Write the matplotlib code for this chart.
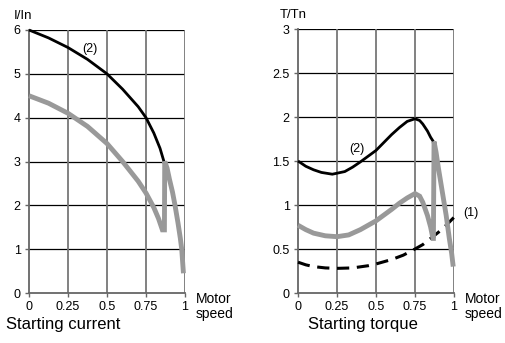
import matplotlib
matplotlib.use("Agg")
import matplotlib.pyplot as plt

plt.rcParams['font.family'] = ['Liberation Sans', 'DejaVu Sans']

# starting current, black curve (2)
cur_x2 = [0, 0.125, 0.25, 0.375, 0.5, 0.6, 0.7, 0.75, 0.8, 0.84, 0.865]
cur_y2 = [6.0, 5.82, 5.6, 5.33, 5.0, 4.65, 4.25, 4.0, 3.65, 3.3, 3.0]
# starting current, gray curve
cur_xg = [0, 0.125, 0.25, 0.375, 0.5, 0.6, 0.7, 0.75, 0.8, 0.83, 0.855, 0.868,
          0.87, 0.885, 0.9, 0.92, 0.936, 0.955, 0.97, 0.979, 0.99]
cur_yg = [4.5, 4.33, 4.1, 3.8, 3.41, 3.0, 2.55, 2.28, 1.95, 1.7, 1.44, 1.44,
          3.0, 2.85, 2.6, 2.3, 2.0, 1.6, 1.25, 1.0, 0.45]

# starting torque, black curve (2)
trq_x2 = [0, 0.05, 0.1, 0.15, 0.22, 0.3, 0.35, 0.4, 0.5, 0.55, 0.6, 0.65, 0.7,
          0.75, 0.78, 0.8, 0.83, 0.85, 0.868]
trq_y2 = [1.5, 1.44, 1.4, 1.37, 1.35, 1.38, 1.43, 1.49, 1.62, 1.71, 1.8, 1.88, 1.95,
          1.98, 1.96, 1.92, 1.84, 1.77, 1.72]
# starting torque, gray curve
trq_xg = [0, 0.05, 0.1, 0.175, 0.25, 0.325, 0.4, 0.5, 0.6, 0.65, 0.7, 0.75, 0.78,
          0.8, 0.83, 0.85, 0.865, 0.868, 0.872, 0.885, 0.9, 0.925, 0.95, 0.97, 0.985, 0.995]
trq_yg = [0.77, 0.72, 0.68, 0.65, 0.64, 0.66, 0.72, 0.82, 0.95, 1.02, 1.08, 1.13, 1.1,
          1.03, 0.88, 0.75, 0.62, 0.62, 1.72, 1.6, 1.42, 1.15, 0.88, 0.62, 0.45, 0.3]
# starting torque, dashed curve (1)
trq_x1 = [0, 0.05, 0.1, 0.175, 0.25, 0.35, 0.45, 0.5, 0.6, 0.675, 0.75, 0.8, 0.85,
          0.9, 0.95, 1.0]
trq_y1 = [0.35, 0.32, 0.3, 0.285, 0.28, 0.285, 0.31, 0.33, 0.38, 0.43, 0.5, 0.55, 0.62,
          0.69, 0.77, 0.86]

xticks = [0, 0.25, 0.5, 0.75, 1]
xlabels = ['0', '0.25', '0.5', '0.75', '1']

fig = plt.figure(figsize=(5.06, 3.43), dpi=100)
ax1 = fig.add_axes([29/506, 50/343, 156/506, 263/343])
ax2 = fig.add_axes([298/506, 50/343, 156/506, 264/343])

def style(ax, ymax, yticks, ylabels):
    ax.set_xlim(0, 1)
    ax.set_ylim(0, ymax)
    ax.set_xticks(xticks)
    ax.set_xticklabels(xlabels, fontsize=9)
    ax.set_yticks(yticks)
    ax.set_yticklabels(ylabels, fontsize=9)
    for y in yticks[1:]:
        ax.axhline(y, color='black', lw=0.9, zorder=1)
    for x in xticks[1:]:
        ax.axvline(x, color='#777777', lw=1.3, zorder=1)
    for s in ['top', 'right']:
        ax.spines[s].set_visible(False)
    for s in ['left', 'bottom']:
        ax.spines[s].set_color('#666666')
        ax.spines[s].set_linewidth(1.3)
    ax.tick_params(length=3, width=1, color='#666666', pad=3)

style(ax1, 6, [0, 1, 2, 3, 4, 5, 6], ['0', '1', '2', '3', '4', '5', '6'])
ax1.plot(cur_x2, cur_y2, color='black', lw=2, zorder=3, clip_on=False, solid_capstyle='butt')
ax1.plot(cur_xg, cur_yg, color='#999999', lw=3.5, zorder=4, clip_on=False,
         solid_capstyle='butt', solid_joinstyle='miter')
ax1.text(0.34, 5.5, '(2)', fontsize=9)
ax1.text(-0.1, 6.25, 'I/In', fontsize=9.5, ha='left')
ax1.text(1.07, -0.3, 'Motor\nspeed', fontsize=10, va='center', ha='left', linespacing=1.1)
fig.text(6/506, 1 - 325/343, 'Starting current', fontsize=12, va='center')

style(ax2, 3, [0, 0.5, 1, 1.5, 2, 2.5, 3], ['0', '0.5', '1', '1.5', '2', '2.5', '3'])
ax2.plot(trq_x2, trq_y2, color='black', lw=2, zorder=3, clip_on=False, solid_capstyle='butt')
ax2.plot(trq_x1, trq_y1, color='black', lw=2.2, ls=(0, (4, 2.5)), zorder=3, clip_on=False)
ax2.plot(trq_xg, trq_yg, color='#999999', lw=3.5, zorder=4, clip_on=False,
         solid_capstyle='butt', solid_joinstyle='miter')
ax2.text(0.33, 1.6, '(2)', fontsize=9)
ax2.text(1.06, 0.87, '(1)', fontsize=9)
ax2.text(-0.12, 3.12, 'T/Tn', fontsize=9.5, ha='left')
ax2.text(1.07, -0.15, 'Motor\nspeed', fontsize=10, va='center', ha='left', linespacing=1.1)
fig.text(308/506, 1 - 325/343, 'Starting torque', fontsize=12, va='center')

fig.savefig('out.png', dpi=100)
